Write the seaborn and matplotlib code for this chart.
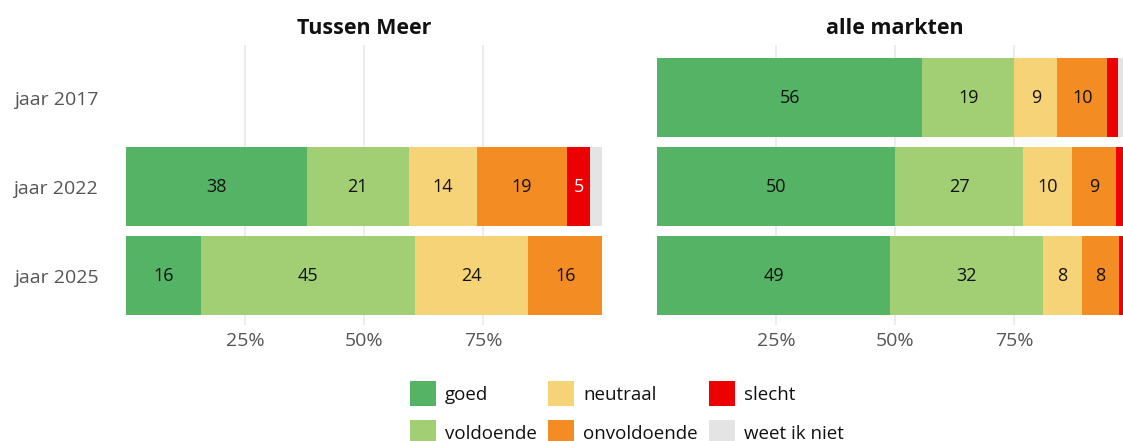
import pandas as pd
import seaborn as sns
import matplotlib.pyplot as plt
from matplotlib.patches import Patch

# Survey answers per year, in percent
years = ["jaar 2017", "jaar 2022", "jaar 2025"]
categories = ["goed", "voldoende", "neutraal", "onvoldoende", "slecht", "weet ik niet"]
colors = ["#55b365", "#a2cf74", "#f7d378", "#f28c23", "#ec0000", "#e4e4e4"]

# Tussen Meer (no data for 2017)
tm_goed = [None, 38.0, 15.8]
tm_voldoende = [None, 21.4, 45.0]
tm_neutraal = [None, 14.3, 23.6]
tm_onvoldoende = [None, 18.9, 15.8]
tm_slecht = [None, 4.9, 0.0]
tm_weet = [None, 2.5, 0.0]

# alle markten
am_goed = [55.7, 50.0, 49.0]
am_voldoende = [19.4, 26.9, 32.1]
am_neutraal = [9.0, 10.3, 8.2]
am_onvoldoende = [10.5, 9.2, 7.8]
am_slecht = [2.3, 2.0, 1.6]
am_weet = [3.0, 1.6, 1.3]

panels = {
    "Tussen Meer": [tm_goed, tm_voldoende, tm_neutraal, tm_onvoldoende, tm_slecht, tm_weet],
    "alle markten": [am_goed, am_voldoende, am_neutraal, am_onvoldoende, am_slecht, am_weet],
}

sns.set_theme(style="white")
plt.rcParams["font.family"] = ["Open Sans", "DejaVu Sans"]

fig = plt.figure(figsize=(11.23, 4.41), dpi=100)
W, H = 1123, 441
ax_left = fig.add_axes([126 / W, 1 - 325 / H, 476 / W, 280 / H])
ax_right = fig.add_axes([657 / W, 1 - 325 / H, 476 / W, 280 / H])

for ax, (title, series) in zip([ax_left, ax_right], panels.items()):
    rows = []
    for cat, vals in zip(categories, series):
        for yr, v in zip(years, vals):
            rows.append({"year": yr, "cat": cat, "value": v})
    df = pd.DataFrame(rows).dropna()
    df["cum"] = df.groupby("year")["value"].cumsum()
    df["start"] = df["cum"] - df["value"]

    # stacked bars: draw cumulative totals from the last category back to the first
    for cat, col in reversed(list(zip(categories, colors))):
        sub = df[df["cat"] == cat]
        if sub.empty:
            continue
        sns.barplot(data=sub, x="cum", y="year", order=years, orient="h",
                    color=col, width=0.888, saturation=1, ax=ax, zorder=2,
                    errorbar=None, linewidth=0, edgecolor="none")

    ypos = {yr: i for i, yr in enumerate(years)}
    for _, r in df.iterrows():
        if r["value"] >= 4:
            tc = "white" if r["cat"] == "slecht" else "#111111"
            ax.text(r["start"] + r["value"] / 2, ypos[r["year"]], f"{r['value']:.0f}",
                    ha="center", va="center", fontsize=13, color=tc, zorder=3)

    ax.set_xlim(0, 100)
    ax.set_ylim(2.556, -0.59)
    ax.set_xticks([25, 50, 75])
    ax.set_xticklabels(["25%", "50%", "75%"])
    ax.grid(axis="x", color="#ebebeb", linewidth=1.3, zorder=0)
    ax.grid(axis="y", visible=False)
    ax.set_axisbelow(True)
    ax.set_xlabel("")
    ax.set_ylabel("")
    ax.tick_params(axis="both", length=0, labelsize=14, labelcolor="#555555")
    ax.tick_params(axis="x", pad=5)
    ax.tick_params(axis="y", pad=20)
    for s in ax.spines.values():
        s.set_visible(False)
    ax.set_title(title, fontsize=15.5, fontweight="bold", color="#111111", pad=8)

ax_right.set_yticklabels([])

handles = [Patch(facecolor=c, edgecolor="none") for c in colors]
fig.legend(handles, categories, ncol=3, loc="upper center",
           bbox_to_anchor=(627 / W, 1 - 381 / H), frameon=False,
           fontsize=13.5, handlelength=1.38, handleheight=1.7,
           handletextpad=0.5, columnspacing=0.6, labelspacing=0.75,
           borderpad=0, borderaxespad=0, labelcolor="#111111")

fig.savefig("out.png", dpi=100)
